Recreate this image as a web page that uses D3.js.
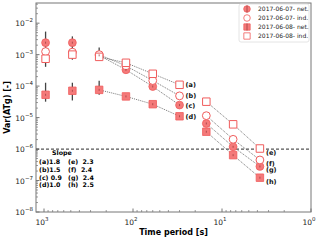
<!DOCTYPE html>
<html>
<head>
<meta charset="utf-8">
<script src="https://cdn.jsdelivr.net/npm/d3@7"></script>
<style>
  body { margin: 0; background: #fff; }
  text { font-family: "DejaVu Sans", sans-serif; }
</style>
</head>
<body>
<div id="chart"></div>
<script>
// time periods [s] (x axis runs from long to short)
const periods = [960, 480, 240, 120, 60, 30, 15, 7.5, 3.75];

// Var(ATg) per series
const net07 = [2.4e-3, 2.4e-3, 9.5e-4, 3.3e-4, 9.7e-5, 2.5e-5, 6.5e-6, 1.18e-6, 2.8e-7];
const ind07 = [1.25e-3, 1.2e-3, 1.0e-3, 4.4e-4, 1.5e-4, 4.9e-5, 1.15e-5, 2.04e-6, 4.5e-7];
const net08 = [5.3e-5, 7.1e-5, 7.6e-5, 4.7e-5, 2.66e-5, 1.1e-5, 3.55e-6, 6.4e-7, 1.23e-7];
const ind08 = [7.4e-4, 1.0e-3, 8.5e-4, 5.5e-4, 2.46e-4, 1.1e-4, 3.2e-5, 6.1e-6, 1.04e-6];

// error bars (low, high) for the net series
const net07Err = [[4.1e-4, 5.4e-3], [6.9e-4, 3.8e-3], [6.9e-4, 1.7e-3], [3.0e-4, 3.6e-4], [9.0e-5, 1.05e-4],
                  [2.3e-5, 2.7e-5], [6.0e-6, 7.0e-6], [1.1e-6, 1.26e-6], [2.6e-7, 3.0e-7]];
const net08Err = [[3.2e-5, 1.28e-4], [3.5e-5, 1.28e-4], [5.3e-5, 1.47e-4], [4.3e-5, 5.1e-5], [2.5e-5, 2.8e-5],
                  [1.0e-5, 1.2e-5], [3.3e-6, 3.8e-6], [6.0e-7, 6.8e-7], [1.15e-7, 1.3e-7]];

const legendLabels = ["2017-06-07- net.", "2017-06-07- ind.", "2017-06-08- net.", "2017-06-08- ind."];
const fitLabels = ["(a)", "(b)", "(c)", "(d)", "(e)", "(f)", "(g)", "(h)"];
const slopeLeft = ["(a)1.8", "(b)1.5", "(c) 0.9", "(d)1.0"];
const slopeRight = ["(e)  2.3", "(f)  2.4", "(g)  2.4", "(h)  2.5"];
const yTicks = [1e-8, 1e-7, 1e-6, 1e-5, 1e-4, 1e-3, 1e-2];
const xTicks = [1000, 100, 10, 1];

const W = 320, H = 240;
const margin = { top: 3, right: 9, bottom: 28, left: 36 };

const svg = d3.select("#chart").append("svg")
    .attr("width", W).attr("height", H);

const x = d3.scaleLog().domain([1230, 1]).range([margin.left, W - margin.right]);
const y = d3.scaleLog().domain([1e-8, 0.0437]).range([H - margin.bottom, margin.top]);

const fillCol = "#f47a7a", edgeCol = "#f05c5c";

// minor ticks
const minorX = [];
[1, 10, 100, 1000].forEach(d => { for (let k = 2; k <= 9; k++) if (d * k < 1230) minorX.push(d * k); });
const minorY = [];
yTicks.forEach(d => { for (let k = 2; k <= 9; k++) if (d * k < 0.0437) minorY.push(d * k); });

const g = svg.append("g");

g.selectAll(".mx").data(minorX).enter().append("line")
    .attr("x1", d => x(d)).attr("x2", d => x(d))
    .attr("y1", H - margin.bottom).attr("y2", H - margin.bottom - 2)
    .attr("stroke", "#555").attr("stroke-width", 0.6);
g.selectAll(".Mx").data(xTicks).enter().append("line")
    .attr("x1", d => x(d)).attr("x2", d => x(d))
    .attr("y1", H - margin.bottom).attr("y2", H - margin.bottom - 3.5)
    .attr("stroke", "#555").attr("stroke-width", 0.8);
g.selectAll(".my").data(minorY).enter().append("line")
    .attr("x1", margin.left).attr("x2", margin.left + 2)
    .attr("y1", d => y(d)).attr("y2", d => y(d))
    .attr("stroke", "#555").attr("stroke-width", 0.6);
g.selectAll(".My").data(yTicks).enter().append("line")
    .attr("x1", margin.left).attr("x2", margin.left + 3.5)
    .attr("y1", d => y(d)).attr("y2", d => y(d))
    .attr("stroke", "#555").attr("stroke-width", 0.8);

// tick labels with superscripts
function powLabel(sel, d) {
    const e = Math.round(Math.log10(d));
    sel.append("tspan").text("10");
    sel.append("tspan").attr("dy", -4).attr("font-size", 5.5).text(e < 0 ? "\u2212" + (-e) : e);
}
xTicks.forEach(d => {
    const t = svg.append("text").attr("x", x(d) - 2).attr("y", H - margin.bottom + 13)
        .attr("font-size", 7.5).attr("fill", "#222").attr("text-anchor", "middle");
    powLabel(t, d);
});
yTicks.forEach(d => {
    const t = svg.append("text").attr("x", margin.left - 3).attr("y", y(d) + 3)
        .attr("font-size", 7.5).attr("fill", "#222").attr("text-anchor", "end");
    powLabel(t, d);
});

// frame
svg.append("rect")
    .attr("x", margin.left).attr("y", margin.top)
    .attr("width", W - margin.left - margin.right).attr("height", H - margin.top - margin.bottom)
    .attr("fill", "none").attr("stroke", "#777").attr("stroke-width", 1);

// axis titles
svg.append("text").attr("x", (margin.left + W - margin.right) / 2).attr("y", 235)
    .attr("text-anchor", "middle").attr("font-size", 8).attr("font-weight", "bold").text("Time period [s]");
svg.append("text").attr("transform", "translate(10," + (margin.top + (H - margin.bottom - margin.top) / 2) + ") rotate(-90)")
    .attr("text-anchor", "middle").attr("font-size", 8).attr("font-weight", "bold").text("Var(ATg) [-]");

// threshold line at 1e-6
svg.append("line")
    .attr("x1", margin.left).attr("x2", W - margin.right)
    .attr("y1", y(1e-6)).attr("y2", y(1e-6))
    .attr("stroke", "#555").attr("stroke-width", 1.2).attr("stroke-dasharray", "3,2");

// dotted fit lines: (a)-(d) cols 2..5, (e)-(h) cols 6..8
const fitSeries = [ind08, ind07, net07, net08];
const line = d3.line().x(d => x(d[0])).y(d => y(d[1]));
const segs = [];
fitSeries.forEach((s, i) => segs.push({ lab: fitLabels[i], pts: [2, 3, 4, 5].map(j => [periods[j], s[j]]) }));
fitSeries.forEach((s, i) => segs.push({ lab: fitLabels[i + 4], pts: [6, 7, 8].map(j => [periods[j], s[j]]) }));

svg.selectAll(".fit").data(segs).enter().append("path")
    .attr("d", d => line(d.pts))
    .attr("fill", "none").attr("stroke", "#555").attr("stroke-width", 0.8).attr("stroke-dasharray", "1,1");

// error bars
function errBars(err) {
    svg.append("g").selectAll("line").data(err).enter().append("line")
        .attr("x1", (d, i) => x(periods[i])).attr("x2", (d, i) => x(periods[i]))
        .attr("y1", d => y(d[0])).attr("y2", d => y(d[1]))
        .attr("stroke", "#444").attr("stroke-width", 1.3);
}

function drawSeries(vals, shape, filled) {
    const gg = svg.append("g");
    const sel = gg.selectAll("path").data(vals).enter().append("path")
        .attr("transform", (d, i) => "translate(" + x(periods[i]) + "," + y(d) + ")")
        .attr("d", d3.symbol().type(shape === "circle" ? d3.symbolCircle : d3.symbolSquare).size(shape === "circle" ? 48 : 56))
        .attr("fill", filled ? fillCol : "#fff")
        .attr("stroke", edgeCol).attr("stroke-width", filled ? 0.8 : 1);
    return gg;
}

errBars(net07Err);
drawSeries(net07, "circle", true);
drawSeries(ind07, "circle", false);
errBars(net08Err);
drawSeries(net08, "square", true);
drawSeries(ind08, "square", false);
// thin error line visible through filled markers
[[net07, net07Err], [net08, net08Err]].forEach(p => {
    svg.append("g").selectAll("line").data(p[0]).enter().append("line")
        .attr("x1", (d, i) => x(periods[i])).attr("x2", (d, i) => x(periods[i]))
        .attr("y1", d => y(d) - 1).attr("y2", d => y(d) + 1)
        .attr("stroke", "#a04040").attr("stroke-width", 0.8);
});

// fit labels beside the last point of each segment
svg.selectAll(".fitlab").data(segs).enter().append("text")
    .attr("x", d => x(d.pts[d.pts.length - 1][0]) + 6)
    .attr("y", d => y(d.pts[d.pts.length - 1][1]) + (d.lab > "(d)" ? 6 : 2.5))
    .attr("font-size", 6.5).attr("font-weight", "bold").attr("fill", "#111")
    .text(d => d.lab);

// slope table
svg.append("text").attr("x", 52).attr("y", 155).attr("font-size", 6.3).attr("font-weight", "bold").text("Slope");
slopeLeft.forEach((t, i) => {
    svg.append("text").attr("x", 39).attr("y", 164 + i * 7.8).attr("font-size", 6.3).attr("font-weight", "bold")
        .attr("xml:space", "preserve").text(t);
    svg.append("text").attr("x", 68).attr("y", 164 + i * 7.8).attr("font-size", 6.3).attr("font-weight", "bold")
        .attr("xml:space", "preserve").text(slopeRight[i]);
});

// legend
const lg = svg.append("g");
lg.append("rect").attr("x", 239).attr("y", 4).attr("width", 70).attr("height", 38)
    .attr("fill", "#fff").attr("stroke", "#ddd").attr("stroke-width", 0.8).attr("rx", 2);
const legShapes = [["circle", true], ["circle", false], ["square", true], ["square", false]];
legendLabels.forEach((t, i) => {
    const yy = 9 + i * 9;
    lg.append("path").attr("transform", "translate(247," + yy + ")")
        .attr("d", d3.symbol().type(legShapes[i][0] === "circle" ? d3.symbolCircle : d3.symbolSquare).size(legShapes[i][0] === "circle" ? 34 : 40))
        .attr("fill", legShapes[i][1] ? fillCol : "#fff").attr("stroke", edgeCol).attr("stroke-width", 0.8);
    if (legShapes[i][1]) {
        lg.append("line").attr("x1", 247).attr("x2", 247).attr("y1", yy - 3.5).attr("y2", yy + 3.5)
            .attr("stroke", "#a04040").attr("stroke-width", 0.8);
    }
    lg.append("text").attr("x", 258).attr("y", yy + 2.2).attr("font-size", 6).attr("fill", "#222").text(t);
});
</script>
</body>
</html>
